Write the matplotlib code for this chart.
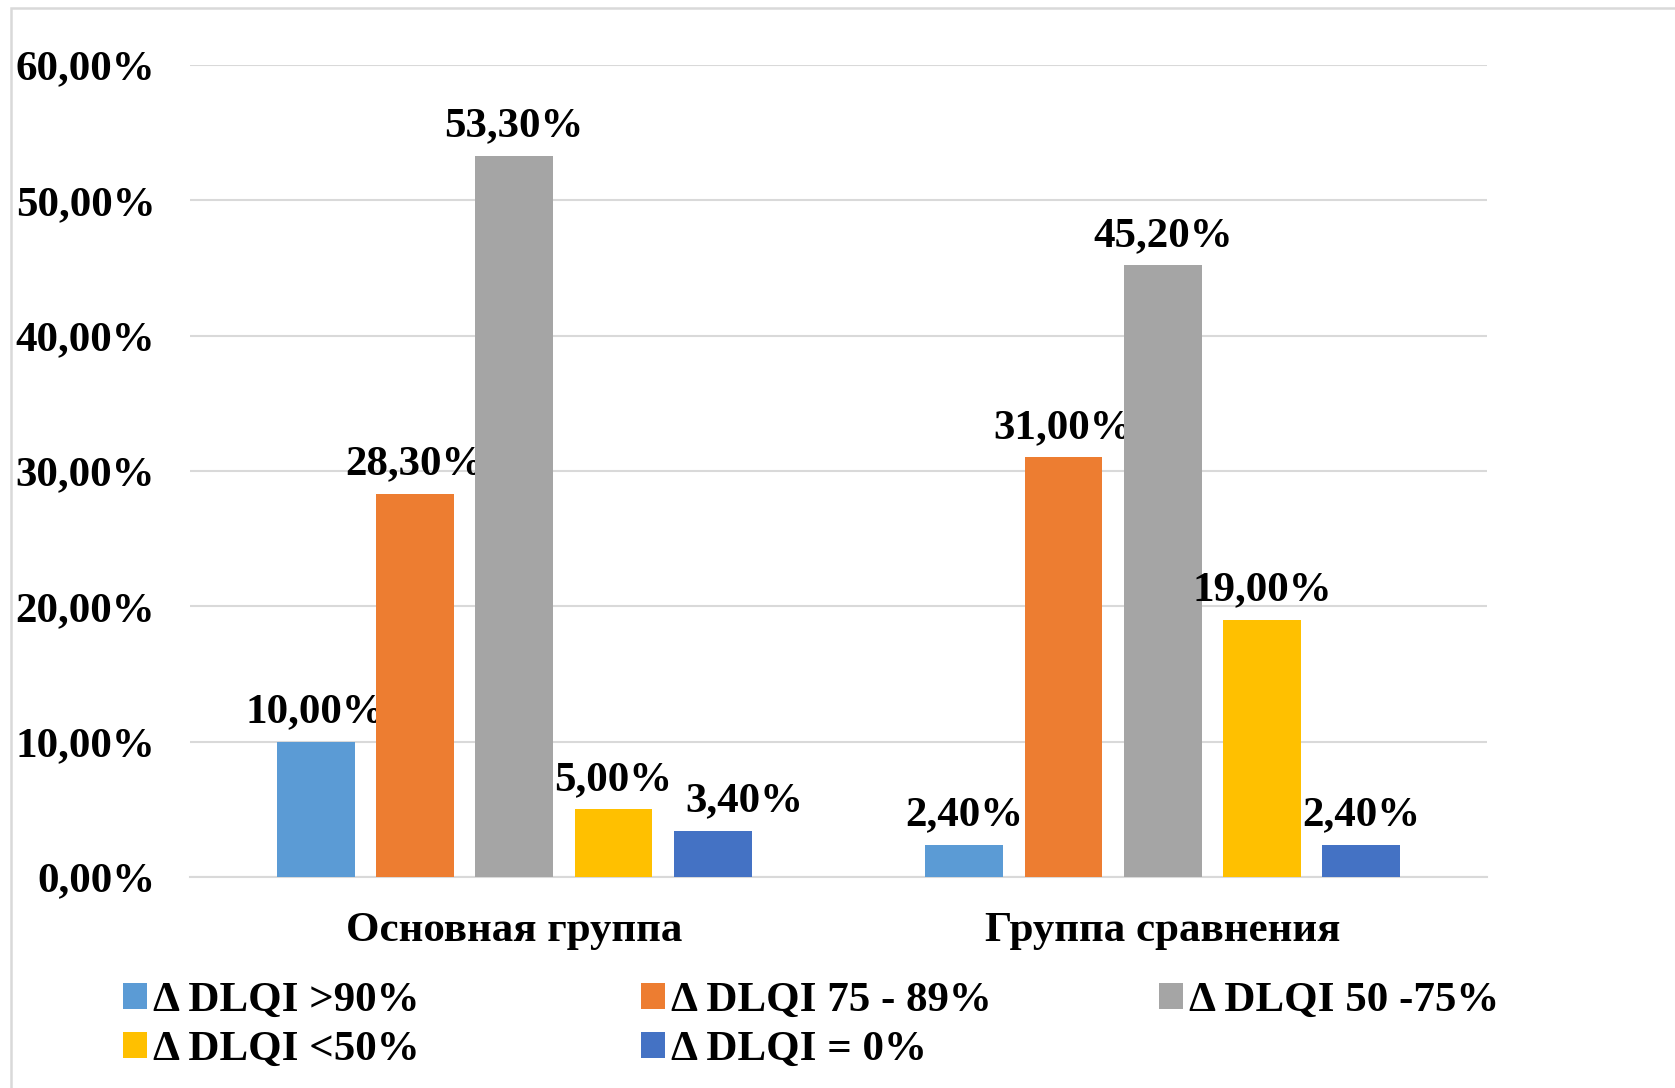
import numpy as np
import matplotlib
matplotlib.use('Agg')
import matplotlib.pyplot as plt
from matplotlib.patches import Rectangle, Patch

# Data
groups = ['Основная группа', 'Группа сравнения']
series = ['Δ DLQI >90%', 'Δ DLQI 75 - 89%', 'Δ DLQI 50 -75%', 'Δ DLQI <50%', 'Δ DLQI = 0%']
values = [
    [0.100, 0.024],
    [0.283, 0.310],
    [0.533, 0.452],
    [0.050, 0.190],
    [0.034, 0.024],
]
colors = ['#5B9BD5', '#ED7D31', '#A5A5A5', '#FFC000', '#4472C4']
yticks = [0, 0.1, 0.2, 0.3, 0.4, 0.5, 0.6]

plt.rcParams['font.family'] = ['Liberation Serif', 'DejaVu Serif']
plt.rcParams['font.weight'] = 'bold'
FS = 31

fig = plt.figure(figsize=(16.75, 10.88), dpi=100)
ax = fig.add_axes([190 / 1675, 1 - 877 / 1088, (1487 - 190) / 1675, (877 - 65) / 1088])

# outer chart border (light grey, runs off right/bottom edge)
fig.patches.append(Rectangle((11 / 1675, -0.2), 1.5, 1.2 - 7.5 / 1088, transform=fig.transFigure,
                             fill=False, edgecolor='#d9d9d9', lw=1.8))

x = np.arange(len(groups))
w = 0.12
step = 0.153
for i, (vals, c) in enumerate(zip(values, colors)):
    pos = x + (i - 2) * step
    ax.bar(pos, vals, w, color=c, zorder=3)
    for j, (p, v) in enumerate(zip(pos, vals)):
        dx = 23 if (i == 4 and j == 0) else 0
        ax.annotate(f'{v * 100:.2f}%'.replace('.', ','), (p, v), xytext=(dx, 14),
                    textcoords='offset points', ha='center', va='baseline',
                    fontsize=FS, fontweight='bold')

ax.set_xlim(-0.5, 1.5)
ax.set_ylim(0, 0.6)
ax.set_yticks(yticks)
ax.set_yticklabels([f'{t * 100:.2f}%'.replace('.', ',') for t in yticks], fontsize=FS, fontweight='bold')
ax.set_xticks(x)
ax.set_xticklabels(groups, fontsize=FS, fontweight='bold')
ax.tick_params(axis='y', length=0, pad=25)
ax.tick_params(axis='x', length=0, pad=25)
ax.grid(axis='y', color='#d9d9d9', lw=1.5, zorder=0)
for s in ['top', 'right', 'left']:
    ax.spines[s].set_visible(False)
ax.spines['bottom'].set_color('#d9d9d9')
ax.spines['bottom'].set_linewidth(1.5)

# legend: three columns placed separately
handles = [Patch(facecolor=c, label=s) for c, s in zip(colors, series)]
cols = [[0, 3], [1, 4], [2]]
col_x = [123, 641, 1159]
for idx, cx in zip(cols, col_x):
    fig.legend(handles=[handles[k] for k in idx], loc='upper left',
               bbox_to_anchor=(cx / 1675, 1 - 982 / 1088), frameon=False,
               fontsize=FS, handlelength=0.55, handleheight=0.55, handletextpad=0.15,
               labelspacing=0.25, borderaxespad=0, borderpad=0)

plt.savefig('out.png', dpi=100)
